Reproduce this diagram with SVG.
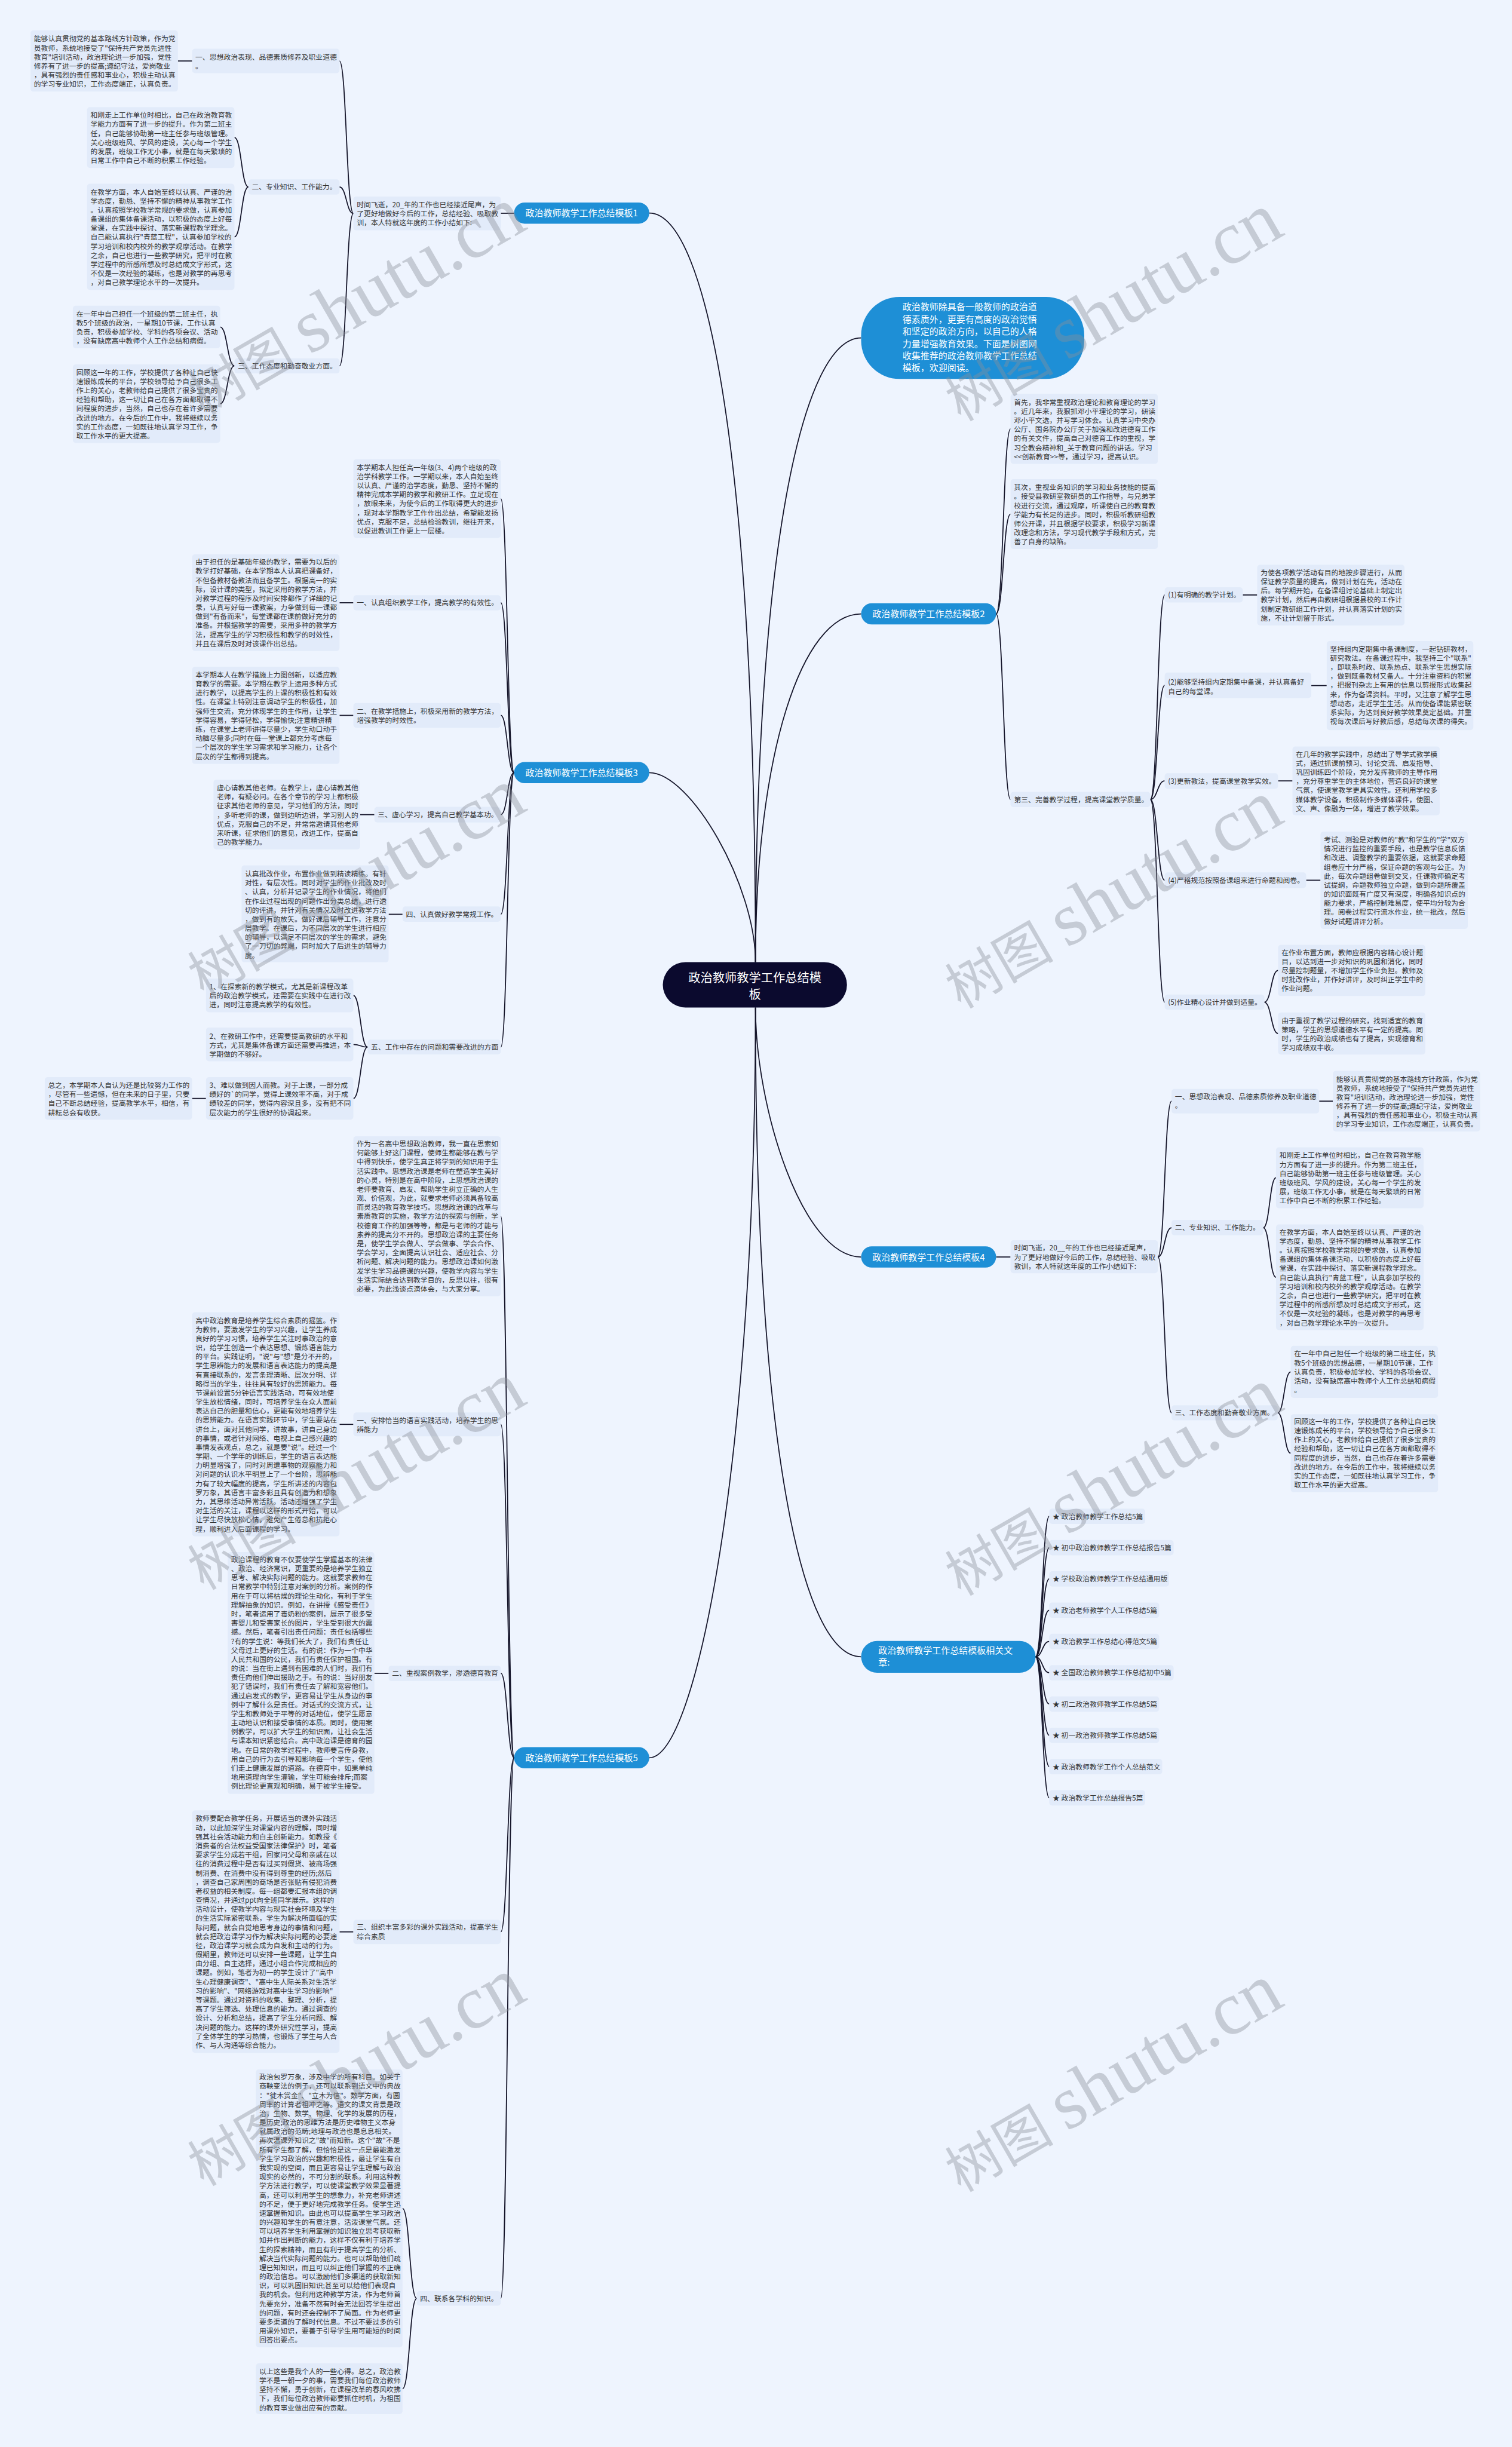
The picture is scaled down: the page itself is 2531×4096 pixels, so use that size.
<svg xmlns="http://www.w3.org/2000/svg" width="2531" height="4096" viewBox="0 0 2531 4096">
<style>
.t{font-family:"Noto Sans CJK SC","Noto Sans",sans-serif;font-size:12px;fill:#333}
.b{fill:#E2EBFA}
.n{fill:#1E8FD6}
.nt{font-family:"Noto Sans CJK SC","Noto Sans",sans-serif;font-size:15.2px;fill:#fff}
.c{fill:none;stroke:#15152a;stroke-width:1.8}
.wm{font-family:"Liberation Serif","Noto Sans CJK SC",serif;fill:#8a8f99;opacity:.4}
</style>
<rect width="2531" height="4096" fill="#EEF4FE"/>
<g transform="scale(0.988)">
<g id="connectors">
<path class="c" d="M1100,361 C1200,361 1280,800 1280,1630"/>
<path class="c" d="M1100,1309 C1170,1309 1280,1500 1280,1630"/>
<path class="c" d="M1459,572.5 C1359,572.5 1280,937 1280,1630"/>
<path class="c" d="M1459,1040 C1359,1040 1280,1276 1280,1630"/>
<path class="c" d="M1280,1707 C1280,1876 1359,2129.6 1459,2129.6"/>
<path class="c" d="M1280,1707 C1280,2450 1359,2807 1459,2807"/>
<path class="c" d="M1280,1707 C1280,2469 1180,2978 1100,2978"/>
<path class="c" d="M871,361.3 H848.5"/>
<path class="c" d="M598.7,361.6 C586.95,361.6 586.95,103.3 575.2,103.3"/>
<path class="c" d="M598.7,361.6 C586.95,361.6 586.95,316.8 575.2,316.8"/>
<path class="c" d="M598.7,361.6 C586.95,361.6 586.95,619.8 575.2,619.8"/>
<path class="c" d="M325.5,103.3 H301.4"/>
<path class="c" d="M420.8,316.8 C409,316.8 409,233 397.2,233"/>
<path class="c" d="M420.8,316.8 C409,316.8 409,401.3 397.2,401.3"/>
<path class="c" d="M397.2,619.8 C385.15,619.8 385.15,554 373.1,554"/>
<path class="c" d="M397.2,619.8 C385.15,619.8 385.15,684 373.1,684"/>
<path class="c" d="M871,1309 C859.75,1309 859.75,845 848.5,845"/>
<path class="c" d="M871,1309 C859.75,1309 859.75,1021.2 848.5,1021.2"/>
<path class="c" d="M871,1309 C859.75,1309 859.75,1212 848.5,1212"/>
<path class="c" d="M871,1309 C859.75,1309 859.75,1380.2 848.5,1380.2"/>
<path class="c" d="M871,1309 C859.75,1309 859.75,1549 848.5,1549"/>
<path class="c" d="M871,1309 C859.75,1309 859.75,1774 848.5,1774"/>
<path class="c" d="M598.7,1021.2 H575.2"/>
<path class="c" d="M598.7,1212 H575.2"/>
<path class="c" d="M634.3,1380.2 H610.2"/>
<path class="c" d="M682,1549 H658.4"/>
<path class="c" d="M622.8,1774 C610.75,1774 610.75,1686.5 598.7,1686.5"/>
<path class="c" d="M622.8,1774 C610.75,1774 610.75,1769.5 598.7,1769.5"/>
<path class="c" d="M622.8,1774 C610.75,1774 610.75,1861 598.7,1861"/>
<path class="c" d="M349,1861 H325.5"/>
<path class="c" d="M871,2978 C859.75,2978 859.75,2060.5 848.5,2060.5"/>
<path class="c" d="M871,2978 C859.75,2978 859.75,2413.2 848.5,2413.2"/>
<path class="c" d="M871,2978 C859.75,2978 859.75,2835 848.5,2835"/>
<path class="c" d="M871,2978 C859.75,2978 859.75,3273 848.5,3273"/>
<path class="c" d="M871,2978 C859.75,2978 859.75,3894 848.5,3894"/>
<path class="c" d="M598.7,2413.2 H575.2"/>
<path class="c" d="M658.4,2835 H634.3"/>
<path class="c" d="M598.7,3273 H575.2"/>
<path class="c" d="M706,3894 C694,3894 694,3741.6 682,3741.6"/>
<path class="c" d="M706,3894 C694,3894 694,4047 682,4047"/>
<path class="c" d="M1687.7,1040 C1699.9,1040 1699.9,726.5 1712.1,726.5"/>
<path class="c" d="M1687.7,1040 C1699.9,1040 1699.9,871 1712.1,871"/>
<path class="c" d="M1687.7,1040 C1699.9,1040 1699.9,1354.5 1712.1,1354.5"/>
<path class="c" d="M1949,1354.5 C1961.15,1354.5 1961.15,1008 1973.3,1008"/>
<path class="c" d="M1949,1354.5 C1961.15,1354.5 1961.15,1161 1973.3,1161"/>
<path class="c" d="M1949,1354.5 C1961.15,1354.5 1961.15,1323 1973.3,1323"/>
<path class="c" d="M1949,1354.5 C1961.15,1354.5 1961.15,1491.3 1973.3,1491.3"/>
<path class="c" d="M1949,1354.5 C1961.15,1354.5 1961.15,1698 1973.3,1698"/>
<path class="c" d="M2105.6,1008 H2130"/>
<path class="c" d="M2221.7,1161.5 H2247.8"/>
<path class="c" d="M2165.4,1323 H2189.8"/>
<path class="c" d="M2213,1491.3 H2237.3"/>
<path class="c" d="M2142.2,1698 C2153.8,1698 2153.8,1644 2165.4,1644"/>
<path class="c" d="M2142.2,1698 C2153.8,1698 2153.8,1751 2165.4,1751"/>
<path class="c" d="M1687.7,2129.6 H1712.1"/>
<path class="c" d="M1961.7,2129.6 C1973.3,2129.6 1973.3,1865.6 1984.9,1865.6"/>
<path class="c" d="M1961.7,2129.6 C1973.3,2129.6 1973.3,2080 1984.9,2080"/>
<path class="c" d="M1961.7,2129.6 C1973.3,2129.6 1973.3,2393.6 1984.9,2393.6"/>
<path class="c" d="M2235,1865.6 H2258.2"/>
<path class="c" d="M2140.4,2080 C2151.15,2080 2151.15,1995.4 2161.9,1995.4"/>
<path class="c" d="M2140.4,2080 C2151.15,2080 2151.15,2164 2161.9,2164"/>
<path class="c" d="M2164.8,2393.6 C2175.8,2393.6 2175.8,2324.3 2186.8,2324.3"/>
<path class="c" d="M2164.8,2393.6 C2175.8,2393.6 2175.8,2462 2186.8,2462"/>
<path class="c" d="M1754.5,2807 C1766.1,2807 1766.1,2569 1777.7,2569"/>
<path class="c" d="M1754.5,2807 C1766.1,2807 1766.1,2622 1777.7,2622"/>
<path class="c" d="M1754.5,2807 C1766.1,2807 1766.1,2675 1777.7,2675"/>
<path class="c" d="M1754.5,2807 C1766.1,2807 1766.1,2728 1777.7,2728"/>
<path class="c" d="M1754.5,2807 C1766.1,2807 1766.1,2781 1777.7,2781"/>
<path class="c" d="M1754.5,2807 C1766.1,2807 1766.1,2834 1777.7,2834"/>
<path class="c" d="M1754.5,2807 C1766.1,2807 1766.1,2887 1777.7,2887"/>
<path class="c" d="M1754.5,2807 C1766.1,2807 1766.1,2940 1777.7,2940"/>
<path class="c" d="M1754.5,2807 C1766.1,2807 1766.1,2993 1777.7,2993"/>
<path class="c" d="M1754.5,2807 C1766.1,2807 1766.1,3046 1777.7,3046"/>
</g>

<g id="center"><rect x="1123" y="1630" width="312" height="77" rx="38.5" fill="#0B0A2E"/>
<text x="1279" y="1663.8" text-anchor="middle" style="font-family:'Noto Sans CJK SC',sans-serif;font-size:20.5px;fill:#fff">政治教师教学工作总结模<tspan x="1279" dy="29">板</tspan></text></g>

<g id="intro-bubble"><rect x="1459" y="503" width="378" height="139" rx="65" class="n"/>
<text class="nt" x="1529" y="525.8">政治教师除具备一般教师的政治道<tspan x="1529" dy="20.6">德素质外，更要有高度的政治觉悟</tspan><tspan x="1529" dy="20.6">和坚定的政治方向，以自己的人格</tspan><tspan x="1529" dy="20.6">力量增强教育效果。下面是树图网</tspan><tspan x="1529" dy="20.6">收集推荐的政治教师教学工作总结</tspan><tspan x="1529" dy="20.6">模板，欢迎阅读。</tspan></text></g>

<g id="b1"><rect x="871" y="343" width="229" height="36" rx="18" class="n"/><text class="nt" x="985.5" y="366.8" text-anchor="middle">政治教师教学工作总结模板1</text></g>
<g id="b3"><rect x="871" y="1291" width="229" height="36" rx="18" class="n"/><text class="nt" x="985.5" y="1314.8" text-anchor="middle">政治教师教学工作总结模板3</text></g>
<g id="b5"><rect x="871" y="2960" width="229" height="36" rx="18" class="n"/><text class="nt" x="985.5" y="2983.8" text-anchor="middle">政治教师教学工作总结模板5</text></g>
<g id="b2"><rect x="1459" y="1022" width="228.7" height="36" rx="18" class="n"/><text class="nt" x="1573.4" y="1045.8" text-anchor="middle">政治教师教学工作总结模板2</text></g>
<g id="b4"><rect x="1459" y="2111.6" width="228.7" height="36" rx="18" class="n"/><text class="nt" x="1573.4" y="2135.4" text-anchor="middle">政治教师教学工作总结模板4</text></g>
<g id="brel"><rect x="1459" y="2780" width="295.5" height="54" rx="27" class="n"/><text class="nt" x="1488" y="2801.8">政治教师教学工作总结模板相关文<tspan x="1488" dy="20">章:</tspan></text></g>

<!-- Branch 1 -->
<g id="b1-intro"><rect class="b" x="598.7" y="332.9" width="249.8" height="57.4" rx="5"/><text class="t" x="604.5" y="351.1">时间飞逝，20_年的工作也已经接近尾声，为<tspan x="604.5" dy="15.36">了更好地做好今后的工作，总结经验、吸取教</tspan><tspan x="604.5" dy="15.36">训，本人特就这年度的工作小结如下:</tspan></text></g>
<g id="b1-l1"><rect class="b" x="325.5" y="82.6" width="249.7" height="41.4" rx="5"/><text class="t" x="331" y="101.1">一、思想政治表现、品德素质修养及职业道德<tspan x="331" dy="15.36">。</tspan></text></g>
<g id="b1-a1"><rect class="b" x="51.7" y="51.4" width="249.7" height="103.8" rx="5"/><text class="t" x="57.4" y="70.2">能够认真贯彻党的基本路线方针政策，作为党<tspan x="57.4" dy="15.36">员教师，系统地接受了"保持共产党员先进性</tspan><tspan x="57.4" dy="15.36">教育"培训活动，政治理论进一步加强，党性</tspan><tspan x="57.4" dy="15.36">修养有了进一步的提高;遵纪守法，爱岗敬业</tspan><tspan x="57.4" dy="15.36">，具有强烈的责任感和事业心，积极主动认真</tspan><tspan x="57.4" dy="15.36">的学习专业知识，工作态度端正，认真负责。</tspan></text></g>
<g id="b1-l2"><rect class="b" x="420.8" y="304" width="154.4" height="25.7" rx="5"/><text class="t" x="426.5" y="321.3">二、专业知识、工作能力。</text></g>
<g id="b1-a2"><rect class="b" x="147.5" y="181.4" width="249.7" height="103.3" rx="5"/><text class="t" x="153.3" y="199.6">和刚走上工作单位时相比，自己在政治教育教<tspan x="153.3" dy="15.36">学能力方面有了进一步的提升。作为第二班主</tspan><tspan x="153.3" dy="15.36">任，自己能够协助第一班主任参与班级管理。</tspan><tspan x="153.3" dy="15.36">关心班级班风、学风的建设，关心每一个学生</tspan><tspan x="153.3" dy="15.36">的发展，班级工作无小事，就是在每天繁琐的</tspan><tspan x="153.3" dy="15.36">日常工作中自己不断的积累工作经验。</tspan></text></g>
<g id="b1-a3"><rect class="b" x="147.5" y="311.3" width="249.7" height="180" rx="5"/><text class="t" x="153.3" y="329.5">在教学方面，本人自始至终以认真、严谨的治<tspan x="153.3" dy="15.36">学态度，勤恳、坚持不懈的精神从事教学工作</tspan><tspan x="153.3" dy="15.36">。认真按照学校教学常规的要求做，认真参加</tspan><tspan x="153.3" dy="15.36">备课组的集体备课活动，以积极的态度上好每</tspan><tspan x="153.3" dy="15.36">堂课，在实践中探讨、落实新课程教学理念。</tspan><tspan x="153.3" dy="15.36">自己能认真执行"青蓝工程"，认真参加学校的</tspan><tspan x="153.3" dy="15.36">学习培训和校内校外的教学观摩活动。在教学</tspan><tspan x="153.3" dy="15.36">之余，自己也进行一些教学研究，把平时在教</tspan><tspan x="153.3" dy="15.36">学过程中的所感所想及时总结成文字形式，这</tspan><tspan x="153.3" dy="15.36">不仅是一次经验的凝练，也是对教学的再思考</tspan><tspan x="153.3" dy="15.36">，对自己教学理论水平的一次提升。</tspan></text></g>
<g id="b1-l3"><rect class="b" x="397.2" y="607" width="178" height="25.7" rx="5"/><text class="t" x="403" y="624.3">三、工作态度和勤奋敬业方面。</text></g>
<g id="b1-a4"><rect class="b" x="123.4" y="518" width="249.7" height="72" rx="5"/><text class="t" x="129.2" y="536.2">在一年中自己担任一个班级的第二班主任，执<tspan x="129.2" dy="15.36">教5个班级的政治，一星期10节课，工作认真</tspan><tspan x="129.2" dy="15.36">负责，积极参加学校、学科的各项会议、活动</tspan><tspan x="129.2" dy="15.36">，没有缺席高中教师个人工作总结和病假。</tspan></text></g>
<g id="b1-a5"><rect class="b" x="123.4" y="617.5" width="249.7" height="133" rx="5"/><text class="t" x="129.2" y="635.3">回顾这一年的工作，学校提供了各种让自己快<tspan x="129.2" dy="15.36">速锻炼成长的平台，学校领导给予自己很多工</tspan><tspan x="129.2" dy="15.36">作上的关心，老教师给自己提供了很多宝贵的</tspan><tspan x="129.2" dy="15.36">经验和帮助，这一切让自己在各方面都取得不</tspan><tspan x="129.2" dy="15.36">同程度的进步，当然，自己也存在着许多需要</tspan><tspan x="129.2" dy="15.36">改进的地方。在今后的工作中，我将继续以务</tspan><tspan x="129.2" dy="15.36">实的工作态度，一如既往地认真学习工作，争</tspan><tspan x="129.2" dy="15.36">取工作水平的更大提高。</tspan></text></g>

<!-- Branch 3 -->
<g id="b3-intro"><rect class="b" x="598.7" y="778.2" width="249.8" height="133.3" rx="5"/><text class="t" x="604.5" y="796.2">本学期本人担任高一年级(3、4)两个班级的政<tspan x="604.5" dy="15.36">治学科教学工作。一学期以来，本人自始至终</tspan><tspan x="604.5" dy="15.36">以认真、严谨的治学态度，勤恳、坚持不懈的</tspan><tspan x="604.5" dy="15.36">精神完成本学期的教学和教研工作。立足现在</tspan><tspan x="604.5" dy="15.36">，放眼未来，为使今后的工作取得更大的进步</tspan><tspan x="604.5" dy="15.36">，现对本学期教学工作作出总结，希望能发扬</tspan><tspan x="604.5" dy="15.36">优点，克服不足，总结检验教训，继往开来，</tspan><tspan x="604.5" dy="15.36">以促进教训工作更上一层楼。</tspan></text></g>
<g id="b3-s1"><rect class="b" x="598.7" y="1008.4" width="249.8" height="25.7" rx="5"/><text class="t" x="604.5" y="1025.7">一、认真组织教学工作，提高教学的有效性。</text></g>
<g id="b3-c1"><rect class="b" x="325.5" y="939" width="249.7" height="164" rx="5"/><text class="t" x="331.2" y="956.7">由于担任的是基础年级的教学，需要为以后的<tspan x="331.2" dy="15.36">教学打好基础，在本学期本人认真把课备好，</tspan><tspan x="331.2" dy="15.36">不但备教材备教法而且备学生。根据高一的实</tspan><tspan x="331.2" dy="15.36">际，设计课的类型，拟定采用的教学方法，并</tspan><tspan x="331.2" dy="15.36">对教学过程的程序及时间安排都作了详细的记</tspan><tspan x="331.2" dy="15.36">录，认真写好每一课教案，力争做到每一课都</tspan><tspan x="331.2" dy="15.36">做到"有备而来"，每堂课都在课前做好充分的</tspan><tspan x="331.2" dy="15.36">准备。并根据教学的需要，采用多种的教学方</tspan><tspan x="331.2" dy="15.36">法，提高学生的学习积极性和教学的时效性，</tspan><tspan x="331.2" dy="15.36">并且在课后及时对该课作出总结。</tspan></text></g>
<g id="b3-s2"><rect class="b" x="598.7" y="1191" width="249.8" height="42" rx="5"/><text class="t" x="604.5" y="1209.2">二、在教学措施上，积极采用新的教学方法，<tspan x="604.5" dy="15.36">增强教学的时效性。</tspan></text></g>
<g id="b3-c2"><rect class="b" x="325.5" y="1129.6" width="249.7" height="164.8" rx="5"/><text class="t" x="331.2" y="1147.7">本学期本人在教学措施上力图创新，以适应教<tspan x="331.2" dy="15.36">育教学的需要。本学期在教学上运用多种方式</tspan><tspan x="331.2" dy="15.36">进行教学，以提高学生的上课的积极性和有效</tspan><tspan x="331.2" dy="15.36">性。在课堂上特别注意调动学生的积极性，加</tspan><tspan x="331.2" dy="15.36">强师生交流，充分体现学生的主作用，让学生</tspan><tspan x="331.2" dy="15.36">学得容易，学得轻松，学得愉快;注意精讲精</tspan><tspan x="331.2" dy="15.36">练，在课堂上老师讲得尽量少，学生动口动手</tspan><tspan x="331.2" dy="15.36">动脑尽量多;同时在每一堂课上都充分考虑每</tspan><tspan x="331.2" dy="15.36">一个层次的学生学习需求和学习能力，让各个</tspan><tspan x="331.2" dy="15.36">层次的学生都得到提高。</tspan></text></g>
<g id="b3-s3"><rect class="b" x="634.3" y="1367" width="214.2" height="26.5" rx="5"/><text class="t" x="640" y="1384.7">三、虚心学习，提高自己教学基本功。</text></g>
<g id="b3-c3"><rect class="b" x="361.7" y="1321" width="248.5" height="118" rx="5"/><text class="t" x="367.4" y="1339.1">虚心请教其他老师。在教学上，虚心请教其他<tspan x="367.4" dy="15.36">老师，有疑必问。在各个章节的学习上都积极</tspan><tspan x="367.4" dy="15.36">征求其他老师的意见，学习他们的方法，同时</tspan><tspan x="367.4" dy="15.36">，多听老师的课，做到边听边讲，学习别人的</tspan><tspan x="367.4" dy="15.36">优点，克服自己的不足，并常常邀请其他老师</tspan><tspan x="367.4" dy="15.36">来听课，征求他们的意见，改进工作，提高自</tspan><tspan x="367.4" dy="15.36">己的教学能力。</tspan></text></g>
<g id="b3-s4"><rect class="b" x="682" y="1535.7" width="166.5" height="26.1" rx="5"/><text class="t" x="687.7" y="1553.5">四、认真做好教学常规工作。</text></g>
<g id="b3-c4"><rect class="b" x="409.3" y="1466" width="249.1" height="164.4" rx="5"/><text class="t" x="415" y="1484.9">认真批改作业，布置作业做到精读精练。有针<tspan x="415" dy="15.36">对性，有层次性。同时对学生的作业批改及时</tspan><tspan x="415" dy="15.36">、认真，分析并记录学生的作业情况，将他们</tspan><tspan x="415" dy="15.36">在作业过程出现的问题作出分类总结，进行透</tspan><tspan x="415" dy="15.36">切的评讲，并针对有关情况及时改进教学方法</tspan><tspan x="415" dy="15.36">，做到有的放矢。做好课后辅导工作，注意分</tspan><tspan x="415" dy="15.36">层教学。在课后，为不同层次的学生进行相应</tspan><tspan x="415" dy="15.36">的辅导，以满足不同层次的学生的需求，避免</tspan><tspan x="415" dy="15.36">了一刀切的弊端，同时加大了后进生的辅导力</tspan><tspan x="415" dy="15.36">度。</tspan></text></g>
<g id="b3-s5"><rect class="b" x="622.8" y="1761.4" width="225.7" height="25" rx="5"/><text class="t" x="628.6" y="1778.8">五、工作中存在的问题和需要改进的方面</text></g>
<g id="b3-d1"><rect class="b" x="349" y="1658" width="249.7" height="57" rx="5"/><text class="t" x="354.8" y="1675.9">1、在探索新的教学模式，尤其是新课程改革<tspan x="354.8" dy="15.36">后的政治教学模式，还需要在实践中在进行改</tspan><tspan x="354.8" dy="15.36">进，同时注意提高教学的有效性。</tspan></text></g>
<g id="b3-d2"><rect class="b" x="349" y="1741" width="249.7" height="57" rx="5"/><text class="t" x="354.8" y="1759.9">2、在教研工作中，还需要提高教研的水平和<tspan x="354.8" dy="15.36">方式，尤其是集体备课方面还需要再推进，本</tspan><tspan x="354.8" dy="15.36">学期做的不够好。</tspan></text></g>
<g id="b3-d3"><rect class="b" x="349" y="1825" width="249.7" height="72" rx="5"/><text class="t" x="354.8" y="1843.1">3、难以做到因人而教。对于上课，一部分成<tspan x="354.8" dy="15.36">绩好的`的同学，觉得上课效率不高，对于成</tspan><tspan x="354.8" dy="15.36">绩较差的同学，觉得内容深且多，没有把不同</tspan><tspan x="354.8" dy="15.36">层次能力的学生很好的协调起来。</tspan></text></g>
<g id="b3-d4"><rect class="b" x="75.8" y="1825" width="249.7" height="72" rx="5"/><text class="t" x="81.5" y="1843.1">总之，本学期本人自认为还是比较努力工作的<tspan x="81.5" dy="15.36">，尽管有一些遗憾，但在未来的日子里，只要</tspan><tspan x="81.5" dy="15.36">自己不断总结经验，提高教学水平，相信，有</tspan><tspan x="81.5" dy="15.36">耕耘总会有收获。</tspan></text></g>

<!-- Branch 5 -->
<g id="b5-intro"><rect class="b" x="598.7" y="1925" width="249.8" height="271" rx="5"/><text class="t" x="604.5" y="1942.4">作为一名高中思想政治教师，我一直在思索如<tspan x="604.5" dy="15.36">何能够上好这门课程，使师生都能够在教与学</tspan><tspan x="604.5" dy="15.36">中得到快乐，使学生真正将学到的知识用于生</tspan><tspan x="604.5" dy="15.36">活实践中。思想政治课是老师在塑造学生美好</tspan><tspan x="604.5" dy="15.36">的心灵，特别是在高中阶段，上思想政治课的</tspan><tspan x="604.5" dy="15.36">老师要教育、启发、帮助学生树立正确的人生</tspan><tspan x="604.5" dy="15.36">观、价值观，为此，就要求老师必须具备较高</tspan><tspan x="604.5" dy="15.36">而灵活的教育教学技巧。思想政治课的改革与</tspan><tspan x="604.5" dy="15.36">素质教育的实施，教学方法的探索与创新，学</tspan><tspan x="604.5" dy="15.36">校德育工作的加强等等，都是与老师的才能与</tspan><tspan x="604.5" dy="15.36">素养的提高分不开的。思想政治课的主要任务</tspan><tspan x="604.5" dy="15.36">是，使学生学会做人、学会做事、学会合作、</tspan><tspan x="604.5" dy="15.36">学会学习，全面提高认识社会、适应社会、分</tspan><tspan x="604.5" dy="15.36">析问题、解决问题的能力。思想政治课如何激</tspan><tspan x="604.5" dy="15.36">发学生学习品德课的兴趣，使教学内容与学生</tspan><tspan x="604.5" dy="15.36">生活实际结合达到教学目的，反思以往，很有</tspan><tspan x="604.5" dy="15.36">必要，为此浅谈点滴体会，与大家分享。</tspan></text></g>
<g id="b5-f1"><rect class="b" x="598.7" y="2393" width="249.8" height="40.5" rx="5"/><text class="t" x="604.5" y="2411">一、安排恰当的语言实践活动，培养学生的思<tspan x="604.5" dy="15.36">辨能力</tspan></text></g>
<g id="b5-f1c"><rect class="b" x="325.5" y="2223.3" width="249.7" height="379.7" rx="5"/><text class="t" x="331.2" y="2241.4">高中政治教育是培养学生综合素质的摇篮。作<tspan x="331.2" dy="15.36">为教师，要激发学生的学习兴趣，让学生养成</tspan><tspan x="331.2" dy="15.36">良好的学习习惯，培养学生关注时事政治的意</tspan><tspan x="331.2" dy="15.36">识，给学生创造一个表达思想、锻炼语言能力</tspan><tspan x="331.2" dy="15.36">的平台。实践证明，"说"与"想"是分不开的，</tspan><tspan x="331.2" dy="15.36">学生思辨能力的发展和语言表达能力的提高是</tspan><tspan x="331.2" dy="15.36">有直接联系的，发言条理清晰、层次分明、详</tspan><tspan x="331.2" dy="15.36">略得当的学生，往往具有较好的思辨能力。每</tspan><tspan x="331.2" dy="15.36">节课前设置5分钟语言实践活动，可有效地使</tspan><tspan x="331.2" dy="15.36">学生放松情绪，同时，可培养学生在众人面前</tspan><tspan x="331.2" dy="15.36">表达自己的胆量和信心，更能有效地培养学生</tspan><tspan x="331.2" dy="15.36">的思辨能力。在语言实践环节中，学生要站在</tspan><tspan x="331.2" dy="15.36">讲台上，面对其他同学，讲故事，讲自己身边</tspan><tspan x="331.2" dy="15.36">的事情，或者针对网络、电视上自己感兴趣的</tspan><tspan x="331.2" dy="15.36">事情发表观点，总之，就是要"说"。经过一个</tspan><tspan x="331.2" dy="15.36">学期、一个学年的训练后，学生的语言表达能</tspan><tspan x="331.2" dy="15.36">力明显增强了，同时对周遭事物的观察能力和</tspan><tspan x="331.2" dy="15.36">对问题的认识水平明显上了一个台阶，思辨能</tspan><tspan x="331.2" dy="15.36">力有了较大幅度的提高，学生所讲述的内容包</tspan><tspan x="331.2" dy="15.36">罗万象，其语言丰富多彩且具有创造力和想象</tspan><tspan x="331.2" dy="15.36">力，其思维活动异常活跃。活动还增强了学生</tspan><tspan x="331.2" dy="15.36">对生活的关注，课程以这样的形式开始，可以</tspan><tspan x="331.2" dy="15.36">让学生尽快放松心情，避免产生倦怠和抗拒心</tspan><tspan x="331.2" dy="15.36">理，顺利进入后面课程的学习。</tspan></text></g>
<g id="b5-f2"><rect class="b" x="658.4" y="2822" width="190.1" height="26" rx="5"/><text class="t" x="664.2" y="2839.5">二、重视案例教学，渗透德育教育</text></g>
<g id="b5-f2c"><rect class="b" x="385.8" y="2629.5" width="248.5" height="409.8" rx="5"/><text class="t" x="391.5" y="2646.7">政治课程的教育不仅要使学生掌握基本的法律<tspan x="391.5" dy="15.36">、政治、经济常识，更重要的是培养学生独立</tspan><tspan x="391.5" dy="15.36">思考、解决实际问题的能力。这就要求教师在</tspan><tspan x="391.5" dy="15.36">日常教学中特别注意对案例的分析。案例的作</tspan><tspan x="391.5" dy="15.36">用在于可以将枯燥的理论生动化，有利于学生</tspan><tspan x="391.5" dy="15.36">理解抽象的知识。例如，在讲授《感受责任》</tspan><tspan x="391.5" dy="15.36">时，笔者运用了毒奶粉的案例，展示了很多受</tspan><tspan x="391.5" dy="15.36">害婴儿和受害家长的图片，学生受到很大的震</tspan><tspan x="391.5" dy="15.36">撼。然后，笔者引出责任问题：责任包括哪些</tspan><tspan x="391.5" dy="15.36">?有的学生说：等我们长大了，我们有责任让</tspan><tspan x="391.5" dy="15.36">父母过上更好的生活。有的说：作为一个中华</tspan><tspan x="391.5" dy="15.36">人民共和国的公民，我们有责任保护祖国。有</tspan><tspan x="391.5" dy="15.36">的说：当在街上遇到有困难的人们时，我们有</tspan><tspan x="391.5" dy="15.36">责任向他们伸出援助之手。有的说：当好朋友</tspan><tspan x="391.5" dy="15.36">犯了错误时，我们有责任去了解和宽容他们。</tspan><tspan x="391.5" dy="15.36">通过启发式的教学，更容易让学生从身边的事</tspan><tspan x="391.5" dy="15.36">例中了解什么是责任。对话式的交流方式，让</tspan><tspan x="391.5" dy="15.36">学生和教师处于平等的对话地位，使学生愿意</tspan><tspan x="391.5" dy="15.36">主动地认识和接受事情的本质。同时，使用案</tspan><tspan x="391.5" dy="15.36">例教学，可以扩大学生的知识面，让社会生活</tspan><tspan x="391.5" dy="15.36">与课本知识紧密结合。高中政治课是德育的园</tspan><tspan x="391.5" dy="15.36">地。在日常的教学过程中，教师要言传身教，</tspan><tspan x="391.5" dy="15.36">用自己的行为去引导和影响每一个学生，使他</tspan><tspan x="391.5" dy="15.36">们走上健康发展的道路。在德育中，如果单纯</tspan><tspan x="391.5" dy="15.36">地用道理向学生灌输，学生可能会排斥;而案</tspan><tspan x="391.5" dy="15.36">例比理论更直观和明确，易于被学生接受。</tspan></text></g>
<g id="b5-f3"><rect class="b" x="598.7" y="3252.6" width="249.8" height="41.2" rx="5"/><text class="t" x="604.5" y="3269.7">三、组织丰富多彩的课外实践活动，提高学生<tspan x="604.5" dy="15.36">综合素质</tspan></text></g>
<g id="b5-f3c"><rect class="b" x="325.5" y="3067" width="249.7" height="411" rx="5"/><text class="t" x="331.2" y="3085.5">教师要配合教学任务，开展适当的课外实践活<tspan x="331.2" dy="15.36">动，以此加深学生对课堂内容的理解，同时增</tspan><tspan x="331.2" dy="15.36">强其社会活动能力和自主创新能力。如教授《</tspan><tspan x="331.2" dy="15.36">消费者的合法权益受国家法律保护》时，笔者</tspan><tspan x="331.2" dy="15.36">要求学生分成若干组，回家问父母和亲戚在以</tspan><tspan x="331.2" dy="15.36">往的消费过程中是否有过买到假货、被商场强</tspan><tspan x="331.2" dy="15.36">制消费、在消费中没有得到尊重的经历;然后</tspan><tspan x="331.2" dy="15.36">，调查自己家周围的商场是否张贴有侵犯消费</tspan><tspan x="331.2" dy="15.36">者权益的相关制度。每一组都要汇报本组的调</tspan><tspan x="331.2" dy="15.36">查情况，并通过ppt向全班同学展示。这样的</tspan><tspan x="331.2" dy="15.36">活动设计，使教学内容与现实社会环境及学生</tspan><tspan x="331.2" dy="15.36">的生活实际紧密联系，学生为解决所面临的实</tspan><tspan x="331.2" dy="15.36">际问题，就会自觉地思考身边的事情和问题，</tspan><tspan x="331.2" dy="15.36">就会把政治课学习作为解决实际问题的必要途</tspan><tspan x="331.2" dy="15.36">径，政治课学习就会成为自发和主动的行为。</tspan><tspan x="331.2" dy="15.36">假期里，教师还可以安排一些课题，让学生自</tspan><tspan x="331.2" dy="15.36">由分组、自主选择，通过小组合作完成相应的</tspan><tspan x="331.2" dy="15.36">课题。例如，笔者为初一的学生设计了"高中</tspan><tspan x="331.2" dy="15.36">生心理健康调查"、"高中生人际关系对生活学</tspan><tspan x="331.2" dy="15.36">习的影响"、"网络游戏对高中生学习的影响"</tspan><tspan x="331.2" dy="15.36">等课题。通过对资料的收集、整理、分析，提</tspan><tspan x="331.2" dy="15.36">高了学生筛选、处理信息的能力。通过调查的</tspan><tspan x="331.2" dy="15.36">设计、分析和总结，提高了学生分析问题、解</tspan><tspan x="331.2" dy="15.36">决问题的能力。这样的课外研究性学习，提高</tspan><tspan x="331.2" dy="15.36">了全体学生的学习热情，也锻炼了学生与人合</tspan><tspan x="331.2" dy="15.36">作、与人沟通等综合能力。</tspan></text></g>
<g id="b5-f4"><rect class="b" x="706" y="3881.7" width="142.5" height="24.7" rx="5"/><text class="t" x="711.8" y="3898.5">四、联系各学科的知识。</text></g>
<g id="b5-g1"><rect class="b" x="433.4" y="3506" width="248.6" height="471" rx="5"/><text class="t" x="439.2" y="3523.5">政治包罗万象，涉及中学的所有科目。如关于<tspan x="439.2" dy="15.36">商鞅变法的例子，还可以联系到语文中的典故</tspan><tspan x="439.2" dy="15.36">："徙木赏金"、"立木为信"。数学方面，有圆</tspan><tspan x="439.2" dy="15.36">周率的计算者祖冲之等。语文的课文背景是政</tspan><tspan x="439.2" dy="15.36">治，生物、数学、物理、化学的发展的历程，</tspan><tspan x="439.2" dy="15.36">是历史;政治的思维方法是历史唯物主义本身</tspan><tspan x="439.2" dy="15.36">就属政治的范畴;地理与政治也是息息相关。</tspan><tspan x="439.2" dy="15.36">再次温课外知识之"故"而知新。这个"故"不是</tspan><tspan x="439.2" dy="15.36">所有学生都了解，但恰恰是这一点是最能激发</tspan><tspan x="439.2" dy="15.36">学生学习政治的兴趣和积极性，最让学生有自</tspan><tspan x="439.2" dy="15.36">我实现的空间，而且更容易让学生理解与政治</tspan><tspan x="439.2" dy="15.36">现实的必然的，不可分割的联系。利用这种教</tspan><tspan x="439.2" dy="15.36">学方法进行教学，可以使课堂教学效果显著提</tspan><tspan x="439.2" dy="15.36">高，还可以利用学生的想象力，补充老师讲述</tspan><tspan x="439.2" dy="15.36">的不足，便于更好地完成教学任务。使学生迅</tspan><tspan x="439.2" dy="15.36">速掌握新知识。由此也可以提高学生学习政治</tspan><tspan x="439.2" dy="15.36">的兴趣和学生的有意注意，活泼课堂气氛。还</tspan><tspan x="439.2" dy="15.36">可以培养学生利用掌握的知识独立思考获取新</tspan><tspan x="439.2" dy="15.36">知并作出判断的能力，这样不仅有利于培养学</tspan><tspan x="439.2" dy="15.36">生的探索精神，而且有利于提高学生的分析、</tspan><tspan x="439.2" dy="15.36">解决当代实际问题的能力。也可以帮助他们疏</tspan><tspan x="439.2" dy="15.36">理已知知识，而且可以纠正他们掌握的不正确</tspan><tspan x="439.2" dy="15.36">的政治信息。可以激励他们多渠道的获取新知</tspan><tspan x="439.2" dy="15.36">识，可以巩固旧知识;甚至可以给他们表现自</tspan><tspan x="439.2" dy="15.36">我的机会。但利用这种教学方法，作为老师首</tspan><tspan x="439.2" dy="15.36">先要充分，准备不然有时会无法回答学生提出</tspan><tspan x="439.2" dy="15.36">的问题，有时还会控制不了局面。作为老师更</tspan><tspan x="439.2" dy="15.36">要多渠道的了解时代信息。不过不要过多的引</tspan><tspan x="439.2" dy="15.36">用课外知识，要善于引导学生用可能短的时间</tspan><tspan x="439.2" dy="15.36">回答出要点。</tspan></text></g>
<g id="b5-g2"><rect class="b" x="433.4" y="4004" width="248.6" height="86" rx="5"/><text class="t" x="439.2" y="4022.1">以上这些是我个人的一些心得。总之，政治教<tspan x="439.2" dy="15.36">学不是一朝一夕的事，需要我们每位政治教师</tspan><tspan x="439.2" dy="15.36">坚持不懈，勇于创新，在课程改革的春风吹拂</tspan><tspan x="439.2" dy="15.36">下，我们每位政治教师都要抓住时机，为祖国</tspan><tspan x="439.2" dy="15.36">的教育事业做出应有的贡献。</tspan></text></g>

<!-- Branch 2 -->
<g id="b2-h1"><rect class="b" x="1712.1" y="667.2" width="249.6" height="118.7" rx="5"/><text class="t" x="1717.9" y="686">首先，我非常重视政治理论和教育理论的学习<tspan x="1717.9" dy="15.36">。近几年来，我狠抓邓小平理论的学习，研读</tspan><tspan x="1717.9" dy="15.36">邓小平文选，并写学习体会。认真学习中央办</tspan><tspan x="1717.9" dy="15.36">公厅、国务院办公厅关于加强和改进德育工作</tspan><tspan x="1717.9" dy="15.36">的有关文件，提高自己对德育工作的重视，学</tspan><tspan x="1717.9" dy="15.36">习全教会精神和_关于教育问题的讲话。学习</tspan><tspan x="1717.9" dy="15.36">&lt;&lt;创新教育&gt;&gt;等，通过学习，提高认识。</tspan></text></g>
<g id="b2-h2"><rect class="b" x="1712.1" y="811.8" width="249.6" height="118.4" rx="5"/><text class="t" x="1717.9" y="830.2">其次，重视业务知识的学习和业务技能的提高<tspan x="1717.9" dy="15.36">。接受县教研室教研员的工作指导，与兄弟学</tspan><tspan x="1717.9" dy="15.36">校进行交流，通过观摩，听课使自己的教育教</tspan><tspan x="1717.9" dy="15.36">学能力有长足的进步。同时，积极听教研组教</tspan><tspan x="1717.9" dy="15.36">师公开课，并且根据学校要求，积极学习新课</tspan><tspan x="1717.9" dy="15.36">改理念和方法，学习现代教学手段和方式，完</tspan><tspan x="1717.9" dy="15.36">善了自身的缺陷。</tspan></text></g>
<g id="b2-h3"><rect class="b" x="1712" y="1341.7" width="237" height="25.7" rx="5"/><text class="t" x="1718" y="1359.2">第三、完善教学过程，提高课堂教学质量。</text></g>
<g id="b2-k1"><rect class="b" x="1973.3" y="994.9" width="132.3" height="25.9" rx="5"/><text class="t" x="1979" y="1012.5">(1)有明确的教学计划。</text></g>
<g id="b2-k1c"><rect class="b" x="2130" y="956.7" width="249.6" height="102.9" rx="5"/><text class="t" x="2135.8" y="974.5">为使各项教学活动有目的地按步骤进行，从而<tspan x="2135.8" dy="15.36">保证教学质量的提高，做到计划在先，活动在</tspan><tspan x="2135.8" dy="15.36">后。每学期开始，在备课组讨论基础上制定出</tspan><tspan x="2135.8" dy="15.36">教学计划，然后再由教研组根据县校的工作计</tspan><tspan x="2135.8" dy="15.36">划制定教研组工作计划，并认真落实计划的实</tspan><tspan x="2135.8" dy="15.36">施，不让计划留于形式。</tspan></text></g>
<g id="b2-k2"><rect class="b" x="1973.3" y="1139.5" width="248.4" height="43.2" rx="5"/><text class="t" x="1979" y="1160.3">(2)能够坚持组内定期集中备课，并认真备好<tspan x="1979" dy="15.36">自己的每堂课。</tspan></text></g>
<g id="b2-k2c"><rect class="b" x="2247.8" y="1086" width="248.4" height="151" rx="5"/><text class="t" x="2253.6" y="1103.9">坚持组内定期集中备课制度，一起钻研教材，<tspan x="2253.6" dy="15.36">研究教法。在备课过程中，我坚持三个"联系"</tspan><tspan x="2253.6" dy="15.36">，即联系时政、联系热点、联系学生思想实际</tspan><tspan x="2253.6" dy="15.36">，做到既备教材又备人。十分注重资料的积累</tspan><tspan x="2253.6" dy="15.36">，把报刊杂志上有用的信息以剪报形式收集起</tspan><tspan x="2253.6" dy="15.36">来，作为备课资料。平时，又注意了解学生思</tspan><tspan x="2253.6" dy="15.36">想动态，走近学生生活。从而使备课能紧密联</tspan><tspan x="2253.6" dy="15.36">系实际，为达到良好教学效果奠定基础。并重</tspan><tspan x="2253.6" dy="15.36">视每次课后写好教后感，总结每次课的得失。</tspan></text></g>
<g id="b2-k3"><rect class="b" x="1973.3" y="1310" width="192.1" height="26.5" rx="5"/><text class="t" x="1979" y="1327.5">(3)更新教法，提高课堂教学实效。</text></g>
<g id="b2-k3c"><rect class="b" x="2189.8" y="1264.6" width="249.5" height="116.6" rx="5"/><text class="t" x="2195.6" y="1282.1">在几年的教学实践中，总结出了导学式教学模<tspan x="2195.6" dy="15.36">式，通过抓课前预习、讨论交流、启发指导、</tspan><tspan x="2195.6" dy="15.36">巩固训练四个阶段，充分发挥教师的主导作用</tspan><tspan x="2195.6" dy="15.36">，充分尊重学生的主体地位，营造良好的课堂</tspan><tspan x="2195.6" dy="15.36">气氛，使课堂教学更具实效性。还利用学校多</tspan><tspan x="2195.6" dy="15.36">媒体教学设备，积极制作多媒体课件，使图、</tspan><tspan x="2195.6" dy="15.36">文、声、像融为一体，增进了教学效果。</tspan></text></g>
<g id="b2-k4"><rect class="b" x="1973.3" y="1478" width="239.7" height="26.6" rx="5"/><text class="t" x="1979" y="1495.8">(4)严格规范按照备课组来进行命题和阅卷。</text></g>
<g id="b2-k4c"><rect class="b" x="2237.3" y="1408.9" width="249.6" height="164.9" rx="5"/><text class="t" x="2243" y="1427.2">考试、测验是对教师的"教"和学生的"学"双方<tspan x="2243" dy="15.36">情况进行监控的重要手段，也是教学信息反馈</tspan><tspan x="2243" dy="15.36">和改进、调整教学的重要依据，这就要求命题</tspan><tspan x="2243" dy="15.36">组卷应十分严格，保证命题的客观与公正。为</tspan><tspan x="2243" dy="15.36">此，每次命题组卷做到交叉，任课教师确定考</tspan><tspan x="2243" dy="15.36">试提纲，命题教师独立命题，做到命题所覆盖</tspan><tspan x="2243" dy="15.36">的知识面既有广度又有深度，明确各知识点的</tspan><tspan x="2243" dy="15.36">能力要求，严格控制难易度，使平均分较为合</tspan><tspan x="2243" dy="15.36">理。阅卷过程实行流水作业，统一批改，然后</tspan><tspan x="2243" dy="15.36">做好试题讲评分析。</tspan></text></g>
<g id="b2-k5"><rect class="b" x="1973.3" y="1685" width="168.9" height="25.6" rx="5"/><text class="t" x="1979" y="1702.5">(5)作业精心设计并做到适量。</text></g>
<g id="b2-k5a"><rect class="b" x="2165.4" y="1600.7" width="249.5" height="86.9" rx="5"/><text class="t" x="2171.2" y="1618.2">在作业布置方面，教师应根据内容精心设计题<tspan x="2171.2" dy="15.36">目，以达到进一步对知识的巩固和消化，同时</tspan><tspan x="2171.2" dy="15.36">尽量控制题量，不增加学生作业负担。教师及</tspan><tspan x="2171.2" dy="15.36">时批改作业，并作好讲评，及时纠正学生中的</tspan><tspan x="2171.2" dy="15.36">作业问题。</tspan></text></g>
<g id="b2-k5b"><rect class="b" x="2165.4" y="1715.3" width="249.5" height="71.3" rx="5"/><text class="t" x="2171.2" y="1733.7">由于重视了教学过程的研究，找到适宜的教育<tspan x="2171.2" dy="15.36">策略，学生的思想道德水平有一定的提高。同</tspan><tspan x="2171.2" dy="15.36">时，学生的政治成绩也有了提高，实现德育和</tspan><tspan x="2171.2" dy="15.36">学习成绩双丰收。</tspan></text></g>

<!-- Branch 4 -->
<g id="b4-m0"><rect class="b" x="1712.1" y="2101.1" width="249.6" height="56.1" rx="5"/><text class="t" x="1718" y="2118.9">时间飞逝，20__年的工作也已经接近尾声，<tspan x="1718" dy="15.36">为了更好地做好今后的工作，总结经验、吸取</tspan><tspan x="1718" dy="15.36">教训，本人特就这年度的工作小结如下:</tspan></text></g>
<g id="b4-n1"><rect class="b" x="1984.9" y="1845" width="250.1" height="41.3" rx="5"/><text class="t" x="1990.7" y="1862.3">一、思想政治表现、品德素质修养及职业道德<tspan x="1990.7" dy="15.36">。</tspan></text></g>
<g id="b4-n1c"><rect class="b" x="2258.2" y="1814.2" width="249.6" height="102.8" rx="5"/><text class="t" x="2264" y="1832.5">能够认真贯彻党的基本路线方针政策，作为党<tspan x="2264" dy="15.36">员教师，系统地接受了"保持共产党员先进性</tspan><tspan x="2264" dy="15.36">教育"培训活动，政治理论进一步加强，党性</tspan><tspan x="2264" dy="15.36">修养有了进一步的提高;遵纪守法，爱岗敬业</tspan><tspan x="2264" dy="15.36">，具有强烈的责任感和事业心，积极主动认真</tspan><tspan x="2264" dy="15.36">的学习专业知识，工作态度端正，认真负责。</tspan></text></g>
<g id="b4-n2"><rect class="b" x="1984.9" y="2066.7" width="155.5" height="26.2" rx="5"/><text class="t" x="1990.7" y="2084.5">二、专业知识、工作能力。</text></g>
<g id="b4-n2a"><rect class="b" x="2161.9" y="1943.7" width="250.1" height="103.3" rx="5"/><text class="t" x="2167.7" y="1961.9">和刚走上工作单位时相比，自己在教育教学能<tspan x="2167.7" dy="15.36">力方面有了进一步的提升。作为第二班主任，</tspan><tspan x="2167.7" dy="15.36">自己能够协助第一班主任参与班级管理。关心</tspan><tspan x="2167.7" dy="15.36">班级班风、学风的建设，关心每一个学生的发</tspan><tspan x="2167.7" dy="15.36">展，班级工作无小事，就是在每天繁琐的日常</tspan><tspan x="2167.7" dy="15.36">工作中自己不断的积累工作经验。</tspan></text></g>
<g id="b4-n2b"><rect class="b" x="2161.9" y="2074.5" width="250.1" height="179.1" rx="5"/><text class="t" x="2167.7" y="2091.9">在教学方面，本人自始至终以认真、严谨的治<tspan x="2167.7" dy="15.36">学态度，勤恳、坚持不懈的精神从事教学工作</tspan><tspan x="2167.7" dy="15.36">。认真按照学校教学常规的要求做，认真参加</tspan><tspan x="2167.7" dy="15.36">备课组的集体备课活动，以积极的态度上好每</tspan><tspan x="2167.7" dy="15.36">堂课，在实践中探讨、落实新课程教学理念。</tspan><tspan x="2167.7" dy="15.36">自己能认真执行"青蓝工程"，认真参加学校的</tspan><tspan x="2167.7" dy="15.36">学习培训和校内校外的教学观摩活动。在教学</tspan><tspan x="2167.7" dy="15.36">之余，自己也进行一些教学研究，把平时在教</tspan><tspan x="2167.7" dy="15.36">学过程中的所感所想及时总结成文字形式，这</tspan><tspan x="2167.7" dy="15.36">不仅是一次经验的凝练，也是对教学的再思考</tspan><tspan x="2167.7" dy="15.36">，对自己教学理论水平的一次提升。</tspan></text></g>
<g id="b4-n3"><rect class="b" x="1984.9" y="2380.8" width="179.9" height="25.7" rx="5"/><text class="t" x="1990.7" y="2398.1">三、工作态度和勤奋敬业方面。</text></g>
<g id="b4-n3a"><rect class="b" x="2186.8" y="2280.2" width="249.6" height="88.1" rx="5"/><text class="t" x="2192.6" y="2298">在一年中自己担任一个班级的第二班主任，执<tspan x="2192.6" dy="15.36">教5个班级的思想品德，一星期10节课，工作</tspan><tspan x="2192.6" dy="15.36">认真负责，积极参加学校、学科的各项会议、</tspan><tspan x="2192.6" dy="15.36">活动，没有缺席高中教师个人工作总结和病假</tspan><tspan x="2192.6" dy="15.36">。</tspan></text></g>
<g id="b4-n3b"><rect class="b" x="2186.8" y="2395.9" width="249.6" height="132.3" rx="5"/><text class="t" x="2192.6" y="2412.8">回顾这一年的工作，学校提供了各种让自己快<tspan x="2192.6" dy="15.36">速锻炼成长的平台，学校领导给予自己很多工</tspan><tspan x="2192.6" dy="15.36">作上的关心，老教师给自己提供了很多宝贵的</tspan><tspan x="2192.6" dy="15.36">经验和帮助，这一切让自己在各方面都取得不</tspan><tspan x="2192.6" dy="15.36">同程度的进步，当然，自己也存在着许多需要</tspan><tspan x="2192.6" dy="15.36">改进的地方。在今后的工作中，我将继续以务</tspan><tspan x="2192.6" dy="15.36">实的工作态度，一如既往地认真学习工作，争</tspan><tspan x="2192.6" dy="15.36">取工作水平的更大提高。</tspan></text></g>

<!-- Related -->
<g id="rel-1"><rect class="b" x="1777.7" y="2556" width="162.5" height="26" rx="5"/><text class="t" x="1783.5" y="2573.5">★ 政治教师教学工作总结5篇</text></g>
<g id="rel-2"><rect class="b" x="1777.7" y="2609" width="210.7" height="26" rx="5"/><text class="t" x="1783.5" y="2626.5">★ 初中政治教师教学工作总结报告5篇</text></g>
<g id="rel-3"><rect class="b" x="1777.7" y="2662" width="203.1" height="26" rx="5"/><text class="t" x="1783.5" y="2679.5">★ 学校政治教师教学工作总结通用版</text></g>
<g id="rel-4"><rect class="b" x="1777.7" y="2715" width="186.3" height="26" rx="5"/><text class="t" x="1783.5" y="2732.5">★ 政治老师教学个人工作总结5篇</text></g>
<g id="rel-5"><rect class="b" x="1777.7" y="2768" width="186.3" height="26" rx="5"/><text class="t" x="1783.5" y="2785.5">★ 政治教学工作总结心得范文5篇</text></g>
<g id="rel-6"><rect class="b" x="1777.7" y="2821" width="210.7" height="26" rx="5"/><text class="t" x="1783.5" y="2838.5">★ 全国政治教师教学工作总结初中5篇</text></g>
<g id="rel-7"><rect class="b" x="1777.7" y="2874" width="186.3" height="26" rx="5"/><text class="t" x="1783.5" y="2891.5">★ 初二政治教师教学工作总结5篇</text></g>
<g id="rel-8"><rect class="b" x="1777.7" y="2927" width="186.3" height="26" rx="5"/><text class="t" x="1783.5" y="2944.5">★ 初一政治教师教学工作总结5篇</text></g>
<g id="rel-9"><rect class="b" x="1777.7" y="2980" width="191.5" height="26" rx="5"/><text class="t" x="1783.5" y="2997.5">★ 政治教师教学工作个人总结范文</text></g>
<g id="rel-10"><rect class="b" x="1777.7" y="3033" width="162.5" height="26" rx="5"/><text class="t" x="1783.5" y="3050.5">★ 政治教学工作总结报告5篇</text></g>

<g id="watermarks">
<text class="wm" x="345" y="705" transform="rotate(-30 345 705)"><tspan font-size="92">树图 </tspan><tspan font-size="128">shutu.cn</tspan></text>
<text class="wm" x="1628" y="715" transform="rotate(-30 1628 715)"><tspan font-size="92">树图 </tspan><tspan font-size="128">shutu.cn</tspan></text>
<text class="wm" x="345" y="1690" transform="rotate(-30 345 1690)"><tspan font-size="92">树图 </tspan><tspan font-size="128">shutu.cn</tspan></text>
<text class="wm" x="1628" y="1710" transform="rotate(-30 1628 1710)"><tspan font-size="92">树图 </tspan><tspan font-size="128">shutu.cn</tspan></text>
<text class="wm" x="345" y="2695" transform="rotate(-30 345 2695)"><tspan font-size="92">树图 </tspan><tspan font-size="128">shutu.cn</tspan></text>
<text class="wm" x="1628" y="2705" transform="rotate(-30 1628 2705)"><tspan font-size="92">树图 </tspan><tspan font-size="128">shutu.cn</tspan></text>
<text class="wm" x="345" y="3705" transform="rotate(-30 345 3705)"><tspan font-size="92">树图 </tspan><tspan font-size="128">shutu.cn</tspan></text>
<text class="wm" x="1628" y="3715" transform="rotate(-30 1628 3715)"><tspan font-size="92">树图 </tspan><tspan font-size="128">shutu.cn</tspan></text>
</g>
</g>
</svg>
